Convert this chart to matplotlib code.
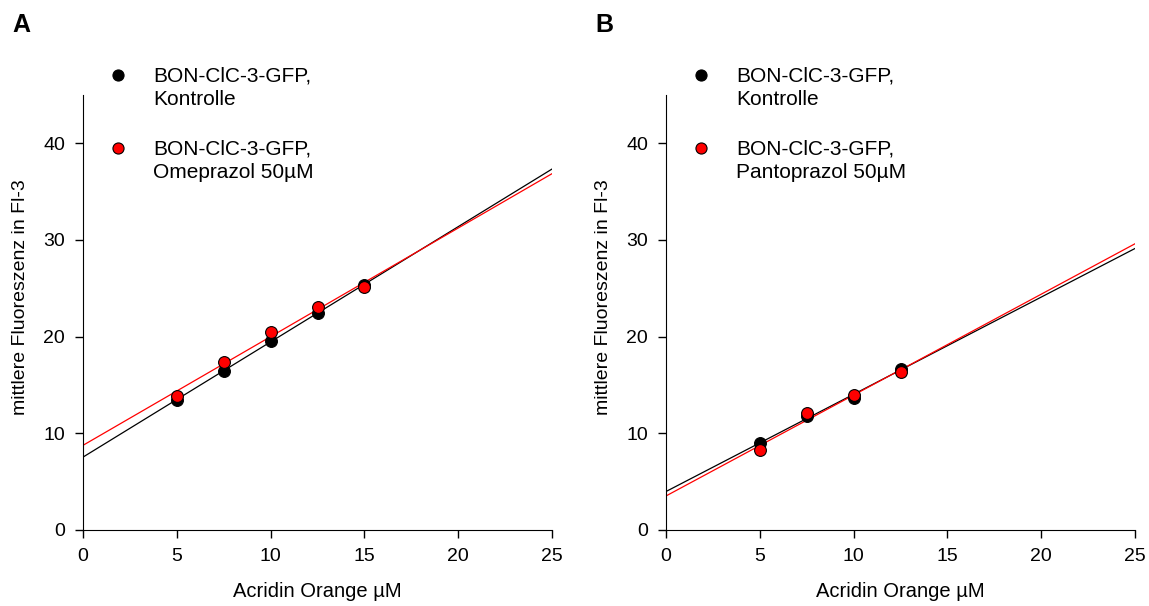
import numpy as np
import matplotlib
matplotlib.use("Agg")
import matplotlib.pyplot as plt

plt.rcParams["font.family"] = ["Liberation Sans", "DejaVu Sans"]

# acridine orange concentration (µM) and mean fluorescence in Fl-3
conc_a = [5, 7.5, 10, 12.5, 15]
ctrl_a = [13.4, 16.5, 19.6, 22.5, 25.3]
omep_a = [13.9, 17.4, 20.5, 23.1, 25.1]

conc_b = [5, 7.5, 10, 12.5]
ctrl_b = [8.97, 11.75, 13.7, 16.7]
pant_b = [8.25, 12.06, 14.0, 16.3]

panels = [
    ("A", conc_a, ctrl_a, omep_a, "BON-ClC-3-GFP,\nOmeprazol 50µM"),
    ("B", conc_b, ctrl_b, pant_b, "BON-ClC-3-GFP,\nPantoprazol 50µM"),
]
ctrl_label = "BON-ClC-3-GFP,\nKontrolle"

fig = plt.figure(figsize=(11.49, 6.06), dpi=100)
lefts = [83 / 1149, 666 / 1149]
width = 469 / 1149
bottom = 1 - 530 / 606
height = (530 - 95) / 606

for (tag, x, ctrl, trt, trt_label), left in zip(panels, lefts):
    ax = fig.add_axes([left, bottom, width, height])
    xx = np.array([0, 25])
    for y, col in ((ctrl, "black"), (trt, "red")):
        k, d = np.polyfit(x, y, 1)
        ax.plot(xx, k * xx + d, color=col, lw=0.9, zorder=2)
    ax.plot(x, ctrl, "o", color="black", mec="black", ms=8.5, mew=0.8, zorder=3)
    ax.plot(x, trt, "o", color="red", mec="black", ms=8.5, mew=0.8, zorder=4)

    ax.set_xlim(0, 25)
    ax.set_ylim(0, 45)
    ax.set_xticks([0, 5, 10, 15, 20, 25])
    ax.set_yticks([0, 10, 20, 30, 40])
    ax.spines[["top", "right"]].set_visible(False)
    ax.tick_params(labelsize=14, length=6, width=1, direction="out", pad=7)
    ax.set_xlabel("Acridin Orange µM", fontsize=14.5, labelpad=12)
    ax.set_ylabel("mittlere Fluoreszenz in Fl-3", fontsize=14)
    ax.yaxis.set_label_coords(-0.115, 0.536)

    # legend drawn by hand: marker sits on the first text line
    entries = (("black", ctrl_label, 1.046, 0.978),
               ("red", trt_label, 0.878, 0.810))
    for mcol, lab, ym, yt in entries:
        ax.plot(0.0746, ym, "o", color=mcol, mec="black", ms=8, mew=0.8,
                transform=ax.transAxes, clip_on=False)
        ax.text(0.149, yt, lab, transform=ax.transAxes, fontsize=15,
                va="baseline", ha="left", linespacing=1.3)

    fig.text(left - 71 / 1149, 1 - 13 / 606, tag, fontsize=18,
             fontweight="bold", va="top", ha="left")

fig.savefig("out.png", dpi=100)
